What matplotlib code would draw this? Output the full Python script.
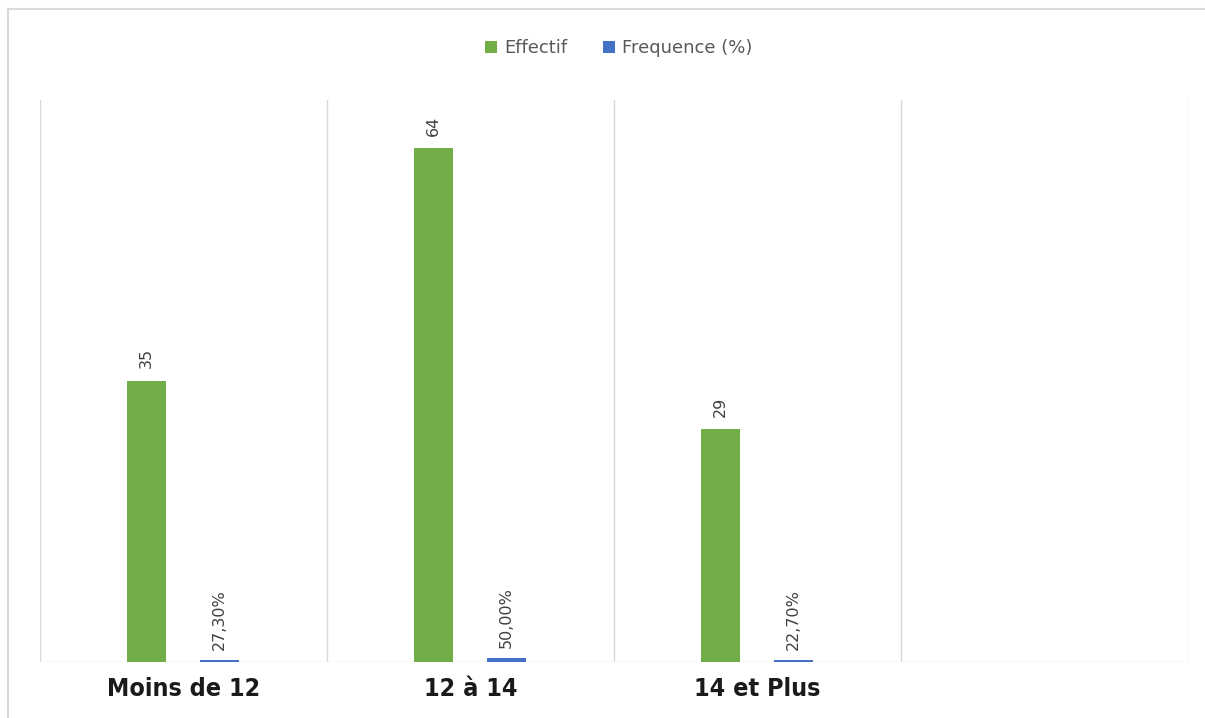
import matplotlib
matplotlib.use("Agg")
import matplotlib.pyplot as plt
from matplotlib.lines import Line2D
import numpy as np

categories = ["Moins de 12", "12 à 14", "14 et Plus"]
effectif = [35, 64, 29]
frequence = [0.273, 0.50, 0.227]
freq_labels = ["27,30%", "50,00%", "22,70%"]

green = "#70ad47"
blue = "#4472c4"
grid_col = "#d9d9d9"

fig = plt.figure(figsize=(12.05, 7.18), dpi=100)
ax = fig.add_axes([40 / 1205, 56 / 718, 1148 / 1205, 562 / 718])

x = np.arange(len(categories))
w = 0.135
b1 = ax.bar(x - 0.13, effectif, w, color=green, label="Effectif", zorder=3)
b2 = ax.bar(x + 0.125, frequence, w, color=blue, label="Frequence (%)", zorder=3)

for rect, v in zip(b1, effectif):
    ax.annotate(str(v), (rect.get_x() + rect.get_width() / 2, rect.get_height()),
                xytext=(0, 9), textcoords="offset points", rotation=90,
                ha="center", va="bottom", fontsize=11.5, color="#404040")
for rect, lab in zip(b2, freq_labels):
    ax.annotate(lab, (rect.get_x() + rect.get_width() / 2, rect.get_height()),
                xytext=(0, 7), textcoords="offset points", rotation=90,
                ha="center", va="bottom", fontsize=11.5, color="#404040")

ax.set_xlim(-0.5, 3.5)
ax.set_ylim(0, 70)
for gx in np.arange(-0.5, 4.0, 1.0):
    ax.axvline(gx, color=grid_col, lw=1, zorder=1)
ax.axhline(0, color=grid_col, lw=1, zorder=1)

for s in ax.spines.values():
    s.set_visible(False)
ax.set_yticks([])
ax.set_xticks(x)
ax.set_xticklabels(categories, family=["DejaVu Sans"], fontstretch="condensed",
                   fontweight="bold", fontsize=18, color="#1a1a1a")
ax.tick_params(axis="x", length=0, pad=11)

leg = fig.legend(handles=[b1, b2], loc="center", bbox_to_anchor=(619 / 1205, 1 - 48 / 718),
                 ncol=2, frameon=False, fontsize=13, handlelength=0.65, handleheight=0.65,
                 handletextpad=0.4, columnspacing=2.0)
for t in leg.get_texts():
    t.set_color("#595959")

fig.add_artist(Line2D([8 / 1205, 8 / 1205], [0, 1 - 9 / 718], transform=fig.transFigure,
                      color=grid_col, lw=1.5))
fig.add_artist(Line2D([8 / 1205, 1], [1 - 9 / 718, 1 - 9 / 718], transform=fig.transFigure,
                      color=grid_col, lw=1.5))

fig.savefig("out.png", dpi=100)
